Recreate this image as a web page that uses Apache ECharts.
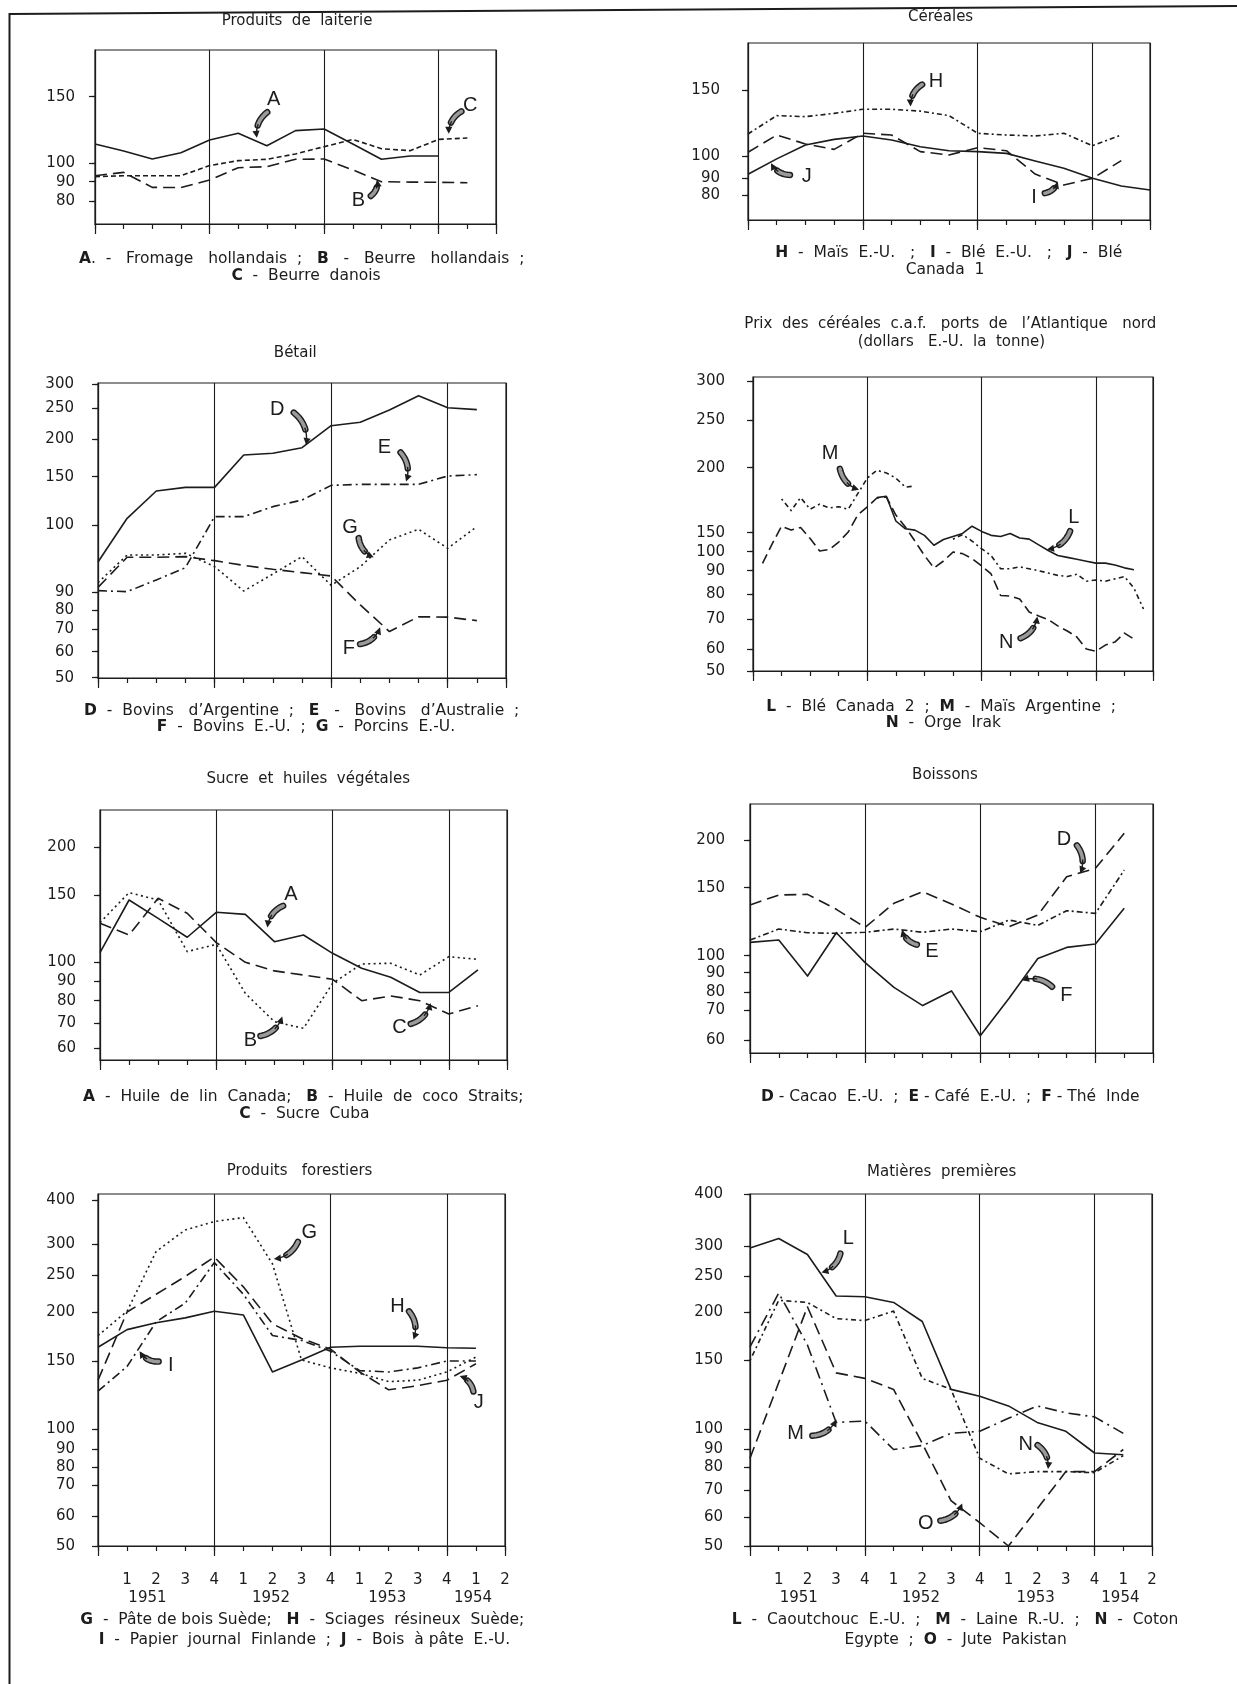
<!DOCTYPE html>
<html>
<head>
<meta charset="utf-8">
<script src="https://cdn.jsdelivr.net/npm/echarts@6/dist/echarts.min.js"></script>
<style>
  html, body { margin: 0; padding: 0; background: #ffffff; }
  #chart { width: 1237px; height: 1684px; }
</style>
</head>
<body>
<div id="chart"></div>
<script>
// ---------------------------------------------------------------
// Indices de prix, par trimestre (1950 T4 = point 0 ... 1954 T2)
// ---------------------------------------------------------------

// Produits de laiterie
const dairyA = [114.3, 109, 103, 107.8, 117.3, 122.4, 113, 124.4, 125.6, 114.3, 102.8, 105.3, 105.3];
const dairyB = [93.2, 95, 87.1, 87, 90.9, 97.5, 98, 102.8, 103, 96.3, 90, 89.8, 89.7, 89.5];
const dairyC = [92.7, 93.2, 93.2, 93.2, 98.6, 101.8, 102.8, 106.8, 112.3, 117.8, 110.8, 109.3, 117.8, 118.8];

// Céréales
const cerealH = [116.7, 130.6, 129.8, 132.3, 135.4, 135.4, 134, 130.6, 117.2, 115.9, 115.2, 117.2, 107.8, 115.9];
const cerealI = [102.8, 115.9, 109.1, 105, 117.2, 115.9, 103.3, 100.8, 106.3, 104, 91.9, 86, 90, 97.9];
const cerealJ = [91.8, 98.7, 108.3, 112.6, 115.2, 112.1, 107, 104, 103.3, 102, 97.8, 94.5, 90, 85.4, 83];

// Bétail
const cattleD = [94.5, 107.2, 135.3, 139, 139, 178.8, 181, 188.5, 221.7, 227.2, 247.3, 276, 251, 247.8];
const cattleE = [90.2, 90.05, 91.8, 93.65, 108.9, 108.9, 119.2, 126, 141.1, 142.1, 142.1, 142.1, 150.9, 152.7];
const cattleF = [90.7, 95.2, 95.2, 95.3, 94.7, 94, 93.4, 92.9, 92.4, 82.8, 69, 76.5, 76.3, 74.5];
const cattleG = [91.4, 95.55, 95.55, 95.8, 93.8, 90.15, 92.7, 95.3, 91, 93.8, 97.8, 99.4, 96.55, 99.8];

// Prix des céréales c.a.f. (mensuels ; le mois m se place en m/3 trimestre)
const grainN = [93.9, 120, 155, 152, 154, 134.7, 101.8, 105.8, 125.5, 150.5, 163.6, 169.8, 176.7, 177.5,
  163.6, 154.4, 128, 98, 91.4, 95.1, 99.8, 99, 96.4, 92.5, 88.6, 79.4, 79.2, 78, 72.8, 71.2, 69.8,
  67.7, 66, 64, 60, 59, 61.3, 62.3, 65.3, 63.3];                 // mois 1 .. 40
const grainL = [177, 178, 159, 153, 152, 143, 117, 132, 140, 148, 155, 151, 143, 140, 148, 136, 133,
  118, 103, 98, 97, 96, 95, 94, 94, 93, 91.5, 90.5];              // mois 13 .. 40
const grainM = [176, 167, 177, 168, 172, 169, 170, 168, 180, 192, 198, 196, 192, 185, 186,
  null, null, null,
  133, 145, 128, 108, 98, 91, 91, 92, 91, 90, 89, 88, 87.5, 88.5, 85.5, 86, 85.5, 86.5, 87.5, 82.5, 74]; // mois 3 .. 41

// Sucre et huiles végétales
const sugarA = [107.2, 146.5, 132.8, 118.7, 137.3, 135.8, 115.4, 120.4, 106.7, 96.8, 92, 84.2, 84.2, 95.9];
const sugarB = [129.6, 152.8, 146.5, 108, 113.4, 83.7, 70.7, 68, 88.8, 99.1, 99.5, 93.2, 104.2, 102.2];
const sugarC = [129.1, 120.4, 147.8, 136.6, 114.7, 100, 95.4, 93.2, 90.9, 80, 82.4, 80, 74.1, 77.8];

// Boissons
const drinkD = [137.3, 144.6, 145.1, 134.1, 120.8, 138.5, 147, 138, 128.2, 121.3, 129.9, 161.5, 170.3, 207];
const drinkE = [111.5, 119.6, 116.9, 116.4, 117.2, 119.6, 117.2, 119.6, 117.6, 126.2, 122.3, 133.1, 131.1, 168.5];
const drinkF = [109.8, 111.5, 88.3, 116.9, 95.9, 82.5, 72.5, 80.7, 61.4, 76.6, 98.4, 106.1, 108.6, 134.8];

// Produits forestiers
const forestG = [176, 201, 288, 332, 351, 360, 268, 151, 145, 141, 135, 136, 142, 154];
const forestH = [164, 182, 189, 194, 201, 197, 142, 151, 164, 165, 165, 165, 163.5, 163];
const forestI = [128, 146, 190, 212, 270, 224, 176, 171, 160, 143, 142, 145, 150, 150];
const forestJ = [136, 200, 224, 248, 279, 234, 188, 173, 162, 142, 129, 132, 136, 148];

// Matières premières
const rawL = [297, 315, 286, 222, 221, 213, 190, 129, 124, 117, 105, 99, 88, 87];
const rawM = [164, 226, 166, 105, 106, 90, 92, 98, 99, 108, 117, 112, 109, 98];
const rawN = [150, 216, 213, 193, 191, 201, 137, 129, 85, 77, 78, 78, 77.5, 86.5];
const rawO = [85, 134, 207, 141, 137, 129, 93, 66, 58, 50, 63, 78, 78, 90];

// Graduations des axes
const dairyTicks = [150, 100, 90, 80];
const cerealTicks = [150, 100, 90, 80];
const cattleTicks = [300, 250, 200, 150, 100, 90, 80, 70, 60, 50];
const grainTicks = [300, 250, 200, 150, 100, 90, 80, 70, 60, 50];
const sugarTicks = [200, 150, 100, 90, 80, 70, 60];
const drinkTicks = [200, 150, 100, 90, 80, 70, 60];
const forestTicks = [400, 300, 250, 200, 150, 100, 90, 80, 70, 60, 50];
const rawTicks = [400, 300, 250, 200, 150, 100, 90, 80, 70, 60, 50];
const quarterLabels = ['', '1', '2', '3', '4', '1', '2', '3', '4', '1', '2', '3', '4', '1', '2'];
const yearLabels = ['1951', '1952', '1953', '1954'];
const yearAt = [1.7, 5.95, 9.95, 12.9];

// ---------------------------------------------------------------
// Styles
// ---------------------------------------------------------------
const INK = '#1c1c1c';
const FONT = 'DejaVu Sans';
const DASH = {
  solid: 'solid',
  long: [12, 6],
  dot: [2, 3.4],
  dashDot: [9, 4, 2, 4],
  shortDash: [5, 3],
  dotDash: [2, 3.4, 5, 3.4],
  longDashDot: [12, 5, 2, 5]
};

// Each panel: plot box [left, top, right, bottom], the pixel rows of its
// (hand-spaced) graduations, the series, and the lettered pointers.
const panels = [
  {
    box: [95, 50, 496, 224], ticks: dairyTicks, tickY: [96.7, 163, 181.7, 201.3], gap: 20,
    series: [
      { data: dairyA, dash: DASH.solid },
      { data: dairyB, dash: DASH.long },
      { data: dairyC, dash: DASH.shortDash }
    ],
    notes: [
      { t: 'A', at: [6.24, 148], tail: [6.06, 139], tip: [5.65, 119], c: 0.3 },
      { t: 'B', at: [9.2, 80.6], tail: [9.6, 82.4], tip: [9.85, 91], c: 0.3 },
      { t: 'C', at: [13.1, 143.6], tail: [12.84, 139.5], tip: [12.35, 122], c: 0.3 }
    ],
    texts: [
      ['Produits  de  laiterie', 297, 21.5, 15],
      ['{b|A}.  -   Fromage   hollandais  ;   {b|B}   -   Beurre   hollandais  ;', 301.7, 258.8, 15.5],
      ['{b|C}  -  Beurre  danois', 306, 276, 15.5]
    ]
  },
  {
    box: [748, 43, 1150, 220], ticks: cerealTicks, tickY: [90, 156, 178.3, 195], gap: 28,
    series: [
      { data: cerealH, dash: [5, 3, 2, 3] },
      { data: cerealI, dash: DASH.long },
      { data: cerealJ, dash: DASH.solid }
    ],
    notes: [
      { t: 'H', at: [6.55, 156.4], tail: [6.11, 154.7], tip: [5.66, 137.5], c: 0.3 },
      { t: 'I', at: [9.96, 78.4], tail: [10.3, 81], tip: [10.79, 88], c: 0.3 },
      { t: 'J', at: [2.05, 91], tail: [1.51, 91.5], tip: [0.8, 96.8], c: -0.3 }
    ],
    texts: [
      ['Céréales', 940.6, 17.2, 15],
      ['{b|H}  -  Maïs  E.-U.   ;   {b|I}  -  Blé  E.-U.   ;   {b|J}  -  Blé', 948.7, 253.4, 15.5],
      ['Canada  1', 945, 269.5, 15.5]
    ]
  },
  {
    box: [98, 383, 506, 678], ticks: cattleTicks,
    tickY: [384, 408.3, 439, 476.7, 525.3, 592, 610, 629.3, 651.7, 677.7], gap: 24,
    series: [
      { data: cattleD, dash: DASH.solid },
      { data: cattleE, dash: DASH.dashDot },
      { data: cattleF, dash: DASH.long },
      { data: cattleG, dash: DASH.dot }
    ],
    notes: [
      { t: 'D', at: [6.15, 248.7], tail: [6.66, 245.1], tip: [7.14, 192], c: -0.3 },
      { t: 'E', at: [9.83, 188.3], tail: [10.34, 184], tip: [10.57, 145], c: -0.3 },
      { t: 'G', at: [8.65, 99.7], tail: [8.94, 98.3], tip: [9.46, 95.2], c: 0.3 },
      { t: 'F', at: [8.61, 61.4], tail: [8.94, 63.3], tip: [9.68, 71], c: 0.3 }
    ],
    texts: [
      ['Bétail', 295.3, 353.3, 15],
      ['{b|D}  -  Bovins   d’Argentine  ;   {b|E}   -   Bovins   d’Australie  ;', 301.7, 710.9, 15.5],
      ['{b|F}  -  Bovins  E.-U.  ;  {b|G}  -  Porcins  E.-U.', 306, 727, 15.5]
    ]
  },
  {
    box: [753, 377, 1153, 671], ticks: grainTicks,
    tickY: [381, 420, 467.7, 532.7, 551.7, 570.7, 594, 619, 649, 671], gap: 28,
    series: [
      { data: grainL, dash: DASH.solid, start: 13 / 3, step: 1 / 3 },
      { data: grainM, dash: DASH.dotDash, start: 1, step: 1 / 3 },
      { data: grainN, dash: [10, 5], start: 1 / 3, step: 1 / 3 }
    ],
    notes: [
      { t: 'M', at: [2.7, 215.3], tail: [3.03, 200.5], tip: [3.71, 183], c: 0.3 },
      { t: 'L', at: [11.23, 161.6], tail: [11.12, 152.5], tip: [10.29, 106], c: -0.3 },
      { t: 'N', at: [8.86, 62.3], tail: [9.31, 63.4], tip: [9.95, 71], c: 0.3 }
    ],
    texts: [
      ['Prix  des  céréales  c.a.f.   ports  de   l’Atlantique   nord', 950.3, 324.3, 15],
      ['(dollars   E.-U.  la  tonne)', 951.4, 342.5, 15],
      ['{b|L}  -  Blé  Canada  2  ;  {b|M}  -  Maïs  Argentine  ;', 941.2, 706.6, 15.5],
      ['{b|N}  -  Orge  Irak', 943.3, 722.7, 15.5]
    ]
  },
  {
    box: [100, 810, 507, 1060], ticks: sugarTicks,
    tickY: [847.3, 895.3, 962.3, 981, 1000.7, 1023.3, 1048.3], gap: 24,
    series: [
      { data: sugarA, dash: DASH.solid },
      { data: sugarB, dash: DASH.dot },
      { data: sugarC, dash: DASH.long }
    ],
    notes: [
      { t: 'A', at: [6.57, 150.6], tail: [6.35, 142.6], tip: [5.76, 126], c: 0.3 },
      { t: 'B', at: [5.17, 63.1], tail: [5.46, 64.8], tip: [6.27, 73], c: 0.3 },
      { t: 'C', at: [10.3, 68.3], tail: [10.63, 69.6], tip: [11.37, 79], c: 0.3 }
    ],
    texts: [
      ['Sucre  et  huiles  végétales', 308.2, 779.6, 15],
      ['{b|A}  -  Huile  de  lin  Canada;   {b|B}  -  Huile  de  coco  Straits;', 303.3, 1097.4, 15.5],
      ['{b|C}  -  Sucre  Cuba', 304.4, 1113.5, 15.5]
    ]
  },
  {
    box: [750, 804, 1153, 1053], ticks: drinkTicks,
    tickY: [840, 887.7, 955.7, 972.7, 992.3, 1010, 1040], gap: 25,
    series: [
      { data: drinkD, dash: DASH.long },
      { data: drinkE, dash: [6, 3, 2, 3] },
      { data: drinkF, dash: DASH.solid }
    ],
    notes: [
      { t: 'D', at: [10.91, 200.3], tail: [11.32, 195.8], tip: [11.47, 165], c: -0.3 },
      { t: 'E', at: [6.32, 103.2], tail: [5.84, 107.9], tip: [5.28, 119], c: -0.3 },
      { t: 'F', at: [10.99, 78.2], tail: [10.54, 82.2], tip: [9.45, 86.1], c: 0.3 }
    ],
    texts: [
      ['Boissons', 945, 775.3, 15],
      ['{b|D} - Cacao  E.-U.  ;  {b|E} - Café  E.-U.  ;  {b|F} - Thé  Inde', 950.3, 1097.4, 15.5]
    ]
  },
  {
    box: [98, 1194, 505, 1546], ticks: forestTicks,
    tickY: [1200, 1244, 1275, 1312, 1361, 1429.6, 1449, 1467.5, 1485, 1516, 1546], gap: 23, years: true,
    series: [
      { data: forestG, dash: DASH.dot },
      { data: forestH, dash: DASH.solid },
      { data: forestI, dash: DASH.dashDot },
      { data: forestJ, dash: DASH.long }
    ],
    notes: [
      { t: 'G', at: [7.27, 325.7], tail: [6.9, 308.6], tip: [6.05, 276], c: -0.3 },
      { t: 'H', at: [10.3, 207], tail: [10.66, 202.7], tip: [10.85, 172], c: -0.3 },
      { t: 'I', at: [2.5, 146.4], tail: [2.13, 149.6], tip: [1.43, 160], c: -0.3 },
      { t: 'J', at: [13.1, 119.8], tail: [12.92, 126.9], tip: [12.44, 139], c: 0.3 }
    ],
    texts: [
      ['Produits   forestiers', 299.6, 1171.5, 15],
      ['{b|G}  -  Pâte de bois Suède;   {b|H}  -  Sciages  résineux  Suède;', 302.3, 1620.4, 15.5],
      ['{b|I}  -  Papier  journal  Finlande  ;  {b|J}  -  Bois  à pâte  E.-U.', 304.4, 1639.7, 15.5]
    ]
  },
  {
    box: [750, 1194, 1152, 1546], ticks: rawTicks,
    tickY: [1194.3, 1246.3, 1275.8, 1311.8, 1360.5, 1429.3, 1449.5, 1467, 1490, 1516.8, 1546], gap: 27, years: true,
    series: [
      { data: rawL, dash: DASH.solid },
      { data: rawM, dash: DASH.longDashDot },
      { data: rawN, dash: DASH.dotDash },
      { data: rawO, dash: DASH.long }
    ],
    notes: [
      { t: 'L', at: [3.42, 315.8], tail: [3.16, 290.3], tip: [2.49, 255.6], c: -0.3 },
      { t: 'M', at: [1.59, 97.9], tail: [2.11, 96.8], tip: [3.01, 107.1], c: 0.3 },
      { t: 'N', at: [9.6, 92.6], tail: [9.97, 92.6], tip: [10.38, 79.1], c: -0.3 },
      { t: 'O', at: [6.12, 57.6], tail: [6.57, 58.6], tip: [7.39, 65], c: 0.3 }
    ],
    texts: [
      ['Matières  premières', 941.7, 1172.6, 15],
      ['{b|L}  -  Caoutchouc  E.-U.  ;   {b|M}  -  Laine  R.-U.  ;   {b|N}  -  Coton', 955.1, 1620.4, 15.5],
      ['Egypte  ;  {b|O}  -  Jute  Pakistan', 955.7, 1639.7, 15.5]
    ]
  }
];

// Piecewise-linear mapping of an index value onto the hand-spaced scale.
function scaleFor(ticks, tickY, bottom) {
  const ps = tickY.map(y => bottom - y);
  const n = ticks.length;
  return function (v) {
    let k;
    if (v >= ticks[0]) k = 0;
    else if (v <= ticks[n - 1]) k = n - 2;
    else { k = 0; while (k < n - 2 && v < ticks[k + 1]) k++; }
    const v0 = ticks[k], v1 = ticks[k + 1], p0 = ps[k], p1 = ps[k + 1];
    return p1 + (v - v1) * (p0 - p1) / (v0 - v1);
  };
}

// Curved pointer: shaded feather body near the letter, thin shaft and head at the curve.
function renderPointer(params, api) {
  const a = api.coord([api.value(0), api.value(1)]);
  const b = api.coord([api.value(2), api.value(3)]);
  const c = api.value(4);
  const dx = b[0] - a[0], dy = b[1] - a[1];
  const len = Math.hypot(dx, dy) || 1;
  const nx = -dy / len, ny = dx / len;
  const ctrl = [(a[0] + b[0]) / 2 + nx * c * len, (a[1] + b[1]) / 2 + ny * c * len];
  const pt = t => [
    (1 - t) * (1 - t) * a[0] + 2 * (1 - t) * t * ctrl[0] + t * t * b[0],
    (1 - t) * (1 - t) * a[1] + 2 * (1 - t) * t * ctrl[1] + t * t * b[1]
  ];
  const body = [], shaft = [];
  for (let k = 0; k <= 12; k++) body.push(pt(0.05 + 0.55 * k / 12));
  for (let k = 0; k <= 8; k++) shaft.push(pt(0.55 + 0.38 * k / 8));
  const tx = b[0] - ctrl[0], ty = b[1] - ctrl[1];
  const tl = Math.hypot(tx, ty) || 1;
  const ux = tx / tl, uy = ty / tl;
  const hl = 7, hw = 3.6;
  const head = [
    b,
    [b[0] - ux * hl - uy * hw, b[1] - uy * hl + ux * hw],
    [b[0] - ux * hl + uy * hw, b[1] - uy * hl - ux * hw]
  ];
  return {
    type: 'group',
    children: [
      { type: 'polyline', shape: { points: body }, style: { stroke: '#1c1c1c', lineWidth: 6.5, fill: null, lineCap: 'round' } },
      { type: 'polyline', shape: { points: body }, style: { stroke: '#9a9a9a', lineWidth: 3.6, fill: null, lineCap: 'round' } },
      { type: 'polyline', shape: { points: shaft }, style: { stroke: '#1c1c1c', lineWidth: 1.4, fill: null } },
      { type: 'polygon', shape: { points: head }, style: { fill: '#1c1c1c' } }
    ]
  };
}

const option = {
  animation: false,
  backgroundColor: '#ffffff',
  grid: [], xAxis: [], yAxis: [], series: [], graphic: []
};

panels.forEach((p, gi) => {
  const [L, T, R, B] = p.box;
  const H = B - T;
  const toPos = scaleFor(p.ticks, p.tickY, B);
  const tickPos = p.tickY.map(y => B - y);
  const labelOf = v => {
    for (let k = 0; k < tickPos.length; k++) {
      if (Math.abs(tickPos[k] - v) < 0.05) return String(p.ticks[k]);
    }
    return '';
  };

  option.grid.push({
    left: L, top: T, width: R - L, height: H,
    show: true, borderColor: INK, borderWidth: 1.2, backgroundColor: 'transparent'
  });

  // value axis with the printed graduations (ticks cross the axis line)
  const mainY = option.yAxis.length;
  option.yAxis.push({
    type: 'value', gridIndex: gi, min: 0, max: H,
    axisLine: { show: true, lineStyle: { color: INK, width: 1.2 } },
    axisTick: { show: true, customValues: tickPos, length: 6, lineStyle: { color: INK, width: 1.2 } },
    axisLabel: {
      show: true, customValues: tickPos, formatter: labelOf, margin: p.gap,
      color: INK, fontFamily: FONT, fontSize: 15
    },
    splitLine: { show: false }
  });
  option.yAxis.push({
    type: 'value', gridIndex: gi, min: 0, max: H,
    axisLine: { show: false },
    axisTick: { show: true, inside: true, customValues: tickPos, length: 3, lineStyle: { color: INK, width: 1.2 } },
    axisLabel: { show: false },
    splitLine: { show: false }
  });

  // quarter ticks (and quarter labels on the bottom row)
  const mainX = option.xAxis.length;
  option.xAxis.push({
    type: 'value', gridIndex: gi, min: 0, max: 14, interval: 1, position: 'bottom',
    axisLine: { show: true, onZero: false, lineStyle: { color: INK, width: 1.2 } },
    axisTick: { show: true, length: 5, lineStyle: { color: INK, width: 1.2 } },
    axisLabel: {
      show: !!p.years, margin: 27, color: INK, fontFamily: FONT, fontSize: 15,
      formatter: v => quarterLabels[Math.round(v)] || ''
    },
    splitLine: { show: false }
  });
  // year separators
  option.xAxis.push({
    type: 'value', gridIndex: gi, min: 0, max: 14, interval: 4, position: 'bottom',
    axisLine: { show: false },
    axisTick: { show: true, length: 10, lineStyle: { color: INK, width: 1.2 } },
    axisLabel: { show: false },
    splitLine: { show: true, lineStyle: { color: INK, width: 1.1 } }
  });
  if (p.years) {
    option.xAxis.push({
      type: 'value', gridIndex: gi, min: 0, max: 14, position: 'bottom',
      axisLine: { show: false }, axisTick: { show: false }, splitLine: { show: false },
      axisLabel: {
        show: true, customValues: yearAt, margin: 45, color: INK, fontFamily: FONT, fontSize: 15,
        formatter: v => {
          const k = yearAt.findIndex(a => Math.abs(a - v) < 0.01);
          return k >= 0 ? yearLabels[k] : '';
        }
      }
    });
  }

  p.series.forEach((s, si) => {
    const start = s.start || 0, step = s.step || 1;
    const item = {
      type: 'line', xAxisIndex: mainX, yAxisIndex: mainY,
      data: s.data.map((v, k) => [start + k * step, v == null ? null : toPos(v)]),
      showSymbol: false, symbol: 'none', connectNulls: false, silent: true,
      lineStyle: { color: INK, width: 1.6, type: s.dash, cap: 'butt', join: 'round' },
      z: 3
    };
    if (si === 0) {
      item.markPoint = {
        silent: true, symbol: 'rect', symbolSize: 1,
        itemStyle: { color: 'rgba(0,0,0,0)' },
        label: {
          show: true, position: 'inside', formatter: q => q.name,
          fontFamily: 'Liberation Sans', fontSize: 20, color: INK
        },
        data: p.notes.map(n => ({ name: n.t, coord: [n.at[0], toPos(n.at[1])] }))
      };
    }
    option.series.push(item);
  });

  // lettered pointers, placed in the panel's own coordinates
  option.series.push({
    type: 'custom', xAxisIndex: mainX, yAxisIndex: mainY, silent: true, clip: false, z: 4,
    renderItem: renderPointer,
    encode: { x: [0, 2], y: [1, 3] },
    data: p.notes.map(n => [n.tail[0], toPos(n.tail[1]), n.tip[0], toPos(n.tip[1]), n.c])
  });

  p.texts.forEach(([text, x, y, size]) => {
    option.graphic.push({
      type: 'text', x: x, y: y, silent: true,
      style: {
        text: text, fill: INK, fontFamily: FONT, fontSize: size,
        textAlign: 'center', textVerticalAlign: 'middle',
        rich: { b: { fontWeight: 'bold', fontFamily: FONT, fontSize: size, fill: INK, color: INK } }
      }
    });
  });
});

// page frame
option.graphic.push(
  { type: 'polyline', silent: true, shape: { points: [[9, 14], [620, 10], [1237, 6]] },
    style: { stroke: INK, lineWidth: 2, fill: null } },
  { type: 'line', silent: true, shape: { x1: 9.5, y1: 13, x2: 9.5, y2: 1684 },
    style: { stroke: INK, lineWidth: 2 } }
);

const chart = echarts.init(document.getElementById('chart'), null, { renderer: 'canvas' });
chart.setOption(option);
</script>
</body>
</html>
